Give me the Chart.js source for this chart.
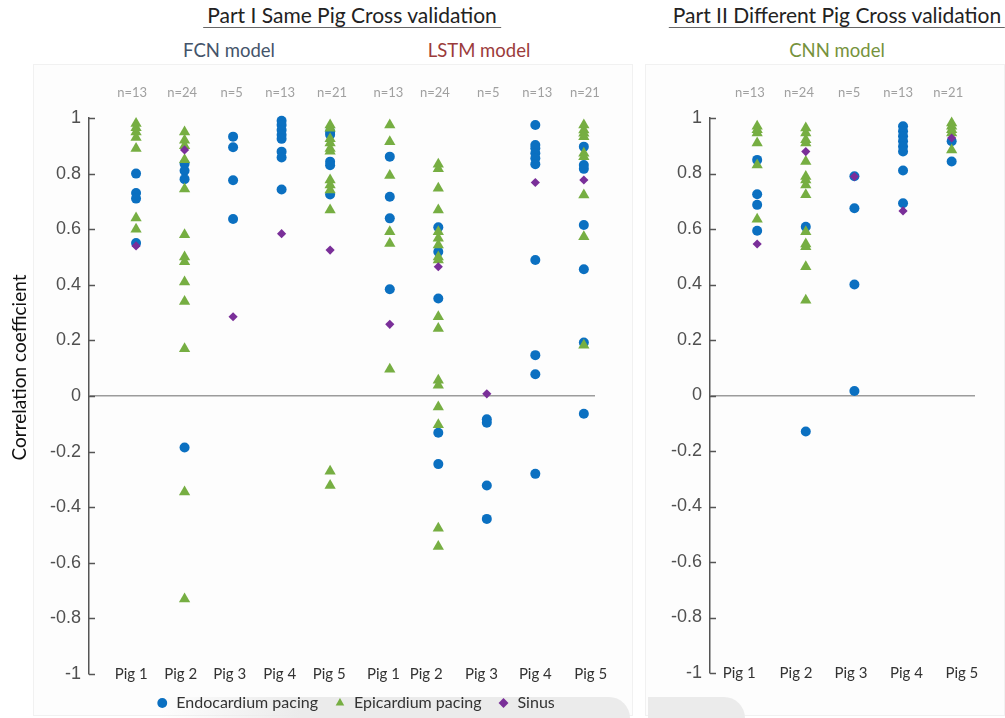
<!DOCTYPE html>
<html>
<head>
<meta charset="utf-8">
<script src="https://cdn.jsdelivr.net/npm/chart.js@4.4.1/dist/chart.umd.min.js"></script>
<style>
  html, body { margin: 0; padding: 0; background: #ffffff; }
  body { width: 1005px; height: 718px; overflow: hidden; position: relative; font-family: Lato, "Noto Sans", sans-serif; }
  .panel { position: absolute; background: #fdfdfd; border: 1px solid #f1f1f1; }
  .blob { position: absolute; background: #ebebeb; }
  .title { position: absolute; transform: translateX(-50%); white-space: nowrap; font-size: 21px; color: #222;
           border-bottom: 1px solid #666; padding: 0 4px 0 4px; line-height: 25px; }
  .sub { position: absolute; transform: translateX(-50%); white-space: nowrap; font-size: 18.5px; line-height: 22px; }
  canvas { position: absolute; top: 0; }
</style>
</head>
<body>
<div class="panel" style="left:33px;top:64px;width:598px;height:650px;"></div>
<div class="panel" style="left:645px;top:64px;width:358px;height:650px;"></div>
<div class="blob" style="left:160px;top:697px;width:470px;height:21px;border-top-right-radius:22px;background:linear-gradient(to right, rgba(235,235,235,0), #ebebeb 30%);"></div>
<div class="blob" style="left:648px;top:697px;width:97px;height:21px;border-top-right-radius:22px;"></div>

<div class="title" style="left:352px;top:2px;">Part I Same Pig Cross validation</div>
<div class="title" style="left:837px;top:2px;">Part II Different Pig Cross validation</div>
<div class="sub" style="left:229px;top:39px;color:#44546a;">FCN model</div>
<div class="sub" style="left:479px;top:39px;color:#9b3b3b;">LSTM model</div>
<div class="sub" style="left:837px;top:39px;color:#76923c;">CNN model</div>

<canvas id="left" width="640" height="721" style="left:0px;"></canvas>
<canvas id="right" width="365" height="722" style="left:640px;"></canvas>

<script>
// ---------------- DATA ----------------
const pigLabels = ['Pig 1', 'Pig 2', 'Pig 3', 'Pig 4', 'Pig 5'];
const nLabels = ['n=13', 'n=24', 'n=5', 'n=13', 'n=21'];
const seriesNames = ['Endocardium pacing', 'Epicardium pacing', 'Sinus'];
const yTitle = 'Correlation coefficient';

// FCN model (Part I), one array per pig
const fcnEndo = [
  [0.80, 0.73, 0.71, 0.55],
  [0.835, 0.81, 0.78, -0.185],
  [0.933, 0.895, 0.776, 0.637],
  [0.99, 0.975, 0.957, 0.94, 0.925, 0.879, 0.858, 0.743],
  [0.95, 0.94, 0.843, 0.83, 0.725]
];
const fcnEpi = [
  [0.98, 0.965, 0.95, 0.93, 0.89, 0.64, 0.60],
  [0.95, 0.92, 0.90, 0.85, 0.745, 0.58, 0.50, 0.483, 0.41, 0.34, 0.17, -0.345, -0.73],
  [],
  [],
  [0.975, 0.963, 0.925, 0.91, 0.89, 0.88, 0.777, 0.759, 0.741, 0.669, -0.271, -0.322]
];
const fcnSinus = [[0.54], [0.885], [0.285], [0.584], [0.525]];

// LSTM model (Part I)
const lstmEndo = [
  [0.861, 0.717, 0.639, 0.384],
  [0.607, 0.519, 0.351, -0.132, -0.245],
  [-0.084, -0.096, -0.322, -0.442],
  [0.975, 0.903, 0.891, 0.873, 0.855, 0.834, 0.489, 0.147, 0.078, -0.28],
  [0.897, 0.831, 0.817, 0.615, 0.456, 0.192, -0.064]
];
const lstmEpi = [
  [0.975, 0.915, 0.793, 0.591, 0.549, 0.096],
  [0.834, 0.817, 0.747, 0.669, 0.591, 0.567, 0.543, 0.50, 0.489, 0.285, 0.243, 0.057, 0.039, -0.04, -0.103, -0.476, -0.541],
  [],
  [],
  [0.975, 0.957, 0.945, 0.933, 0.873, 0.861, 0.723, 0.573, 0.183]
];
const lstmSinus = [[0.258], [0.465], [0.008], [0.768], [0.777]];

// CNN model (Part II)
const cnnEndo = [
  [0.849, 0.725, 0.687, 0.594],
  [0.608, -0.13],
  [0.79, 0.675, 0.40, 0.016],
  [0.97, 0.952, 0.934, 0.916, 0.897, 0.879, 0.811, 0.693],
  [0.916, 0.843]
];
const cnnEpi = [
  [0.97, 0.958, 0.946, 0.91, 0.831, 0.635],
  [0.964, 0.946, 0.922, 0.91, 0.843, 0.789, 0.777, 0.759, 0.723, 0.59, 0.546, 0.536, 0.464, 0.343],
  [],
  [],
  [0.982, 0.97, 0.958, 0.946, 0.885]
];
const cnnSinus = [[0.546], [0.879], [0.789], [0.665], [0.928]];

// ---------------- LAYOUT (axis units) ----------------
const LEFT_POS = [1, 2, 3, 4, 5, 6.23, 7.23, 8.23, 9.23, 10.23];
const LEFT_LABEL_POS = [0.90, 1.92, 2.93, 3.96, 4.98, 6.10, 6.98, 8.12, 9.23, 10.37];
const LEFT_N_POS = [0.92, 1.95, 2.97, 3.97, 5.04, 6.20, 7.16, 8.26, 9.27, 10.25];
const RIGHT_POS = [1, 2, 3, 4, 5];
const RIGHT_LABEL_POS = [0.63, 1.80, 2.93, 4.07, 5.21];
const RIGHT_N_POS = [0.85, 1.86, 2.89, 3.90, 4.93];

const COLORS = ['#0b70c1', '#76ae42', '#7a2f99'];
const STYLES = ['circle', 'triangle', 'rectRot'];
const RADII = [5, 6.5, 4.6];
const ORDER = [3, 2, 1];

function pts(groups, positions) {
  const out = [];
  groups.forEach((vals, i) => vals.forEach(v => out.push({ x: positions[i], y: v })));
  return out;
}
function makeDatasets(seriesGroups, positions) {
  return seriesGroups.map((groups, s) => ({
    label: seriesNames[s],
    data: pts(groups, positions),
    pointStyle: STYLES[s],
    pointRadius: RADII[s],
    pointHoverRadius: RADII[s],
    backgroundColor: COLORS[s],
    borderColor: COLORS[s],
    borderWidth: 0,
    pointBorderWidth: 0,
    order: ORDER[s],
    clip: false
  }));
}

const innerTicks = {
  id: 'innerTicks',
  afterDraw(chart) {
    const y = chart.scales.y, ctx = chart.ctx, left = chart.chartArea.left;
    ctx.save();
    ctx.strokeStyle = '#555';
    ctx.lineWidth = 1.5;
    y.ticks.forEach(t => {
      const py = Math.round(y.getPixelForValue(t.value)) + 0.5;
      ctx.beginPath();
      ctx.moveTo(left, py);
      ctx.lineTo(left + 6, py);
      ctx.stroke();
    });
    ctx.restore();
  }
};
const legendShift = {
  id: 'legendShift',
  afterLayout(chart, args, opts) {
    if (chart.legend && opts.dx) {
      chart.legend.left += opts.dx;
      chart.legend.right += opts.dx;
    }
  }
};

function yScale(width) {
  return {
    type: 'linear', min: -1, max: 1,
    afterFit: s => { s.width = width; },
    ticks: {
      stepSize: 0.2, padding: 8, color: '#505050',
      font: { family: '"Liberation Sans", Arial, sans-serif', size: 18 },
      callback: v => { const r = Math.round(v * 10) / 10; return r === 0 ? '0' : String(r); }
    },
    grid: {
      drawTicks: false,
      lineWidth: 1.5,
      color: c => (c.tick && Math.abs(c.tick.value) < 1e-9) ? '#9c9c9c' : 'rgba(0,0,0,0)'
    },
    border: { display: true, color: '#555', width: 1.5 }
  };
}
function xScale(min, max, tickPos, labels, opts) {
  return Object.assign({
    type: 'linear', min, max,
    afterBuildTicks: s => { s.ticks = tickPos.map(v => ({ value: v })); },
    grid: { display: false, drawTicks: false },
    border: { display: false },
  }, opts, {
    ticks: Object.assign({
      autoSkip: false, maxRotation: 0, minRotation: 0,
      callback: (v, i) => labels[i]
    }, opts.ticks)
  });
}

Chart.defaults.animation = false;

// ---------------- LEFT CHART ----------------
new Chart(document.getElementById('left'), {
  type: 'scatter',
  data: { datasets: makeDatasets([
    [...fcnEndo, ...lstmEndo],
    [...fcnEpi, ...lstmEpi],
    [...fcnSinus, ...lstmSinus]
  ], LEFT_POS) },
  options: {
    responsive: false, devicePixelRatio: 1,
    layout: { padding: { left: 0, right: 45, top: 0, bottom: 0 } },
    scales: {
      x: xScale(0.03, 10.46, LEFT_LABEL_POS, [...pigLabels, ...pigLabels], {
        position: 'bottom',
        afterFit: s => { s.height = 5; },
        ticks: { mirror: true, padding: -9, color: '#333', font: { family: 'Lato', size: 15 } }
      }),
      xTop: xScale(0.03, 10.46, LEFT_N_POS, [...nLabels, ...nLabels], {
        position: 'top',
        afterFit: s => { s.height = 118; },
        ticks: { padding: 17, color: '#a0a0a0', font: { family: 'Lato', size: 13 } }
      }),
      y: Object.assign(yScale(89), {
        title: {
          display: true,
          text: '\u2003\u2003\u2003\u2003' + yTitle,
          color: '#111',
          font: { family: 'Lato', size: 19 },
          padding: { top: 8, bottom: 0 }
        }
      })
    },
    plugins: {
      legend: {
        position: 'bottom',
        labels: {
          usePointStyle: true, boxWidth: 12, boxHeight: 7, padding: 16,
          color: '#333', font: { family: 'Lato', size: 16 },
          sort: (a, b) => a.datasetIndex - b.datasetIndex
        }
      },
      legendShift: { dx: 58 },
      tooltip: { enabled: false }
    }
  },
  plugins: [innerTicks, legendShift]
});

// ---------------- RIGHT CHART ----------------
new Chart(document.getElementById('right'), {
  type: 'scatter',
  data: { datasets: makeDatasets([cnnEndo, cnnEpi, cnnSinus], RIGHT_POS) },
  options: {
    responsive: false, devicePixelRatio: 1,
    layout: { padding: { left: 0, right: 30, top: 0, bottom: 0 } },
    scales: {
      x: xScale(0.03, 5.48, RIGHT_LABEL_POS, pigLabels, {
        position: 'bottom',
        afterFit: s => { s.height = 49; },
        ticks: { mirror: true, padding: -9, color: '#333', font: { family: 'Lato', size: 15 } }
      }),
      xTop: xScale(0.03, 5.48, RIGHT_N_POS, nLabels, {
        position: 'top',
        afterFit: s => { s.height = 118; },
        ticks: { padding: 17, color: '#a0a0a0', font: { family: 'Lato', size: 13 } }
      }),
      y: yScale(70)
    },
    plugins: {
      legend: { display: false },
      tooltip: { enabled: false }
    }
  },
  plugins: [innerTicks]
});
</script>
</body>
</html>
